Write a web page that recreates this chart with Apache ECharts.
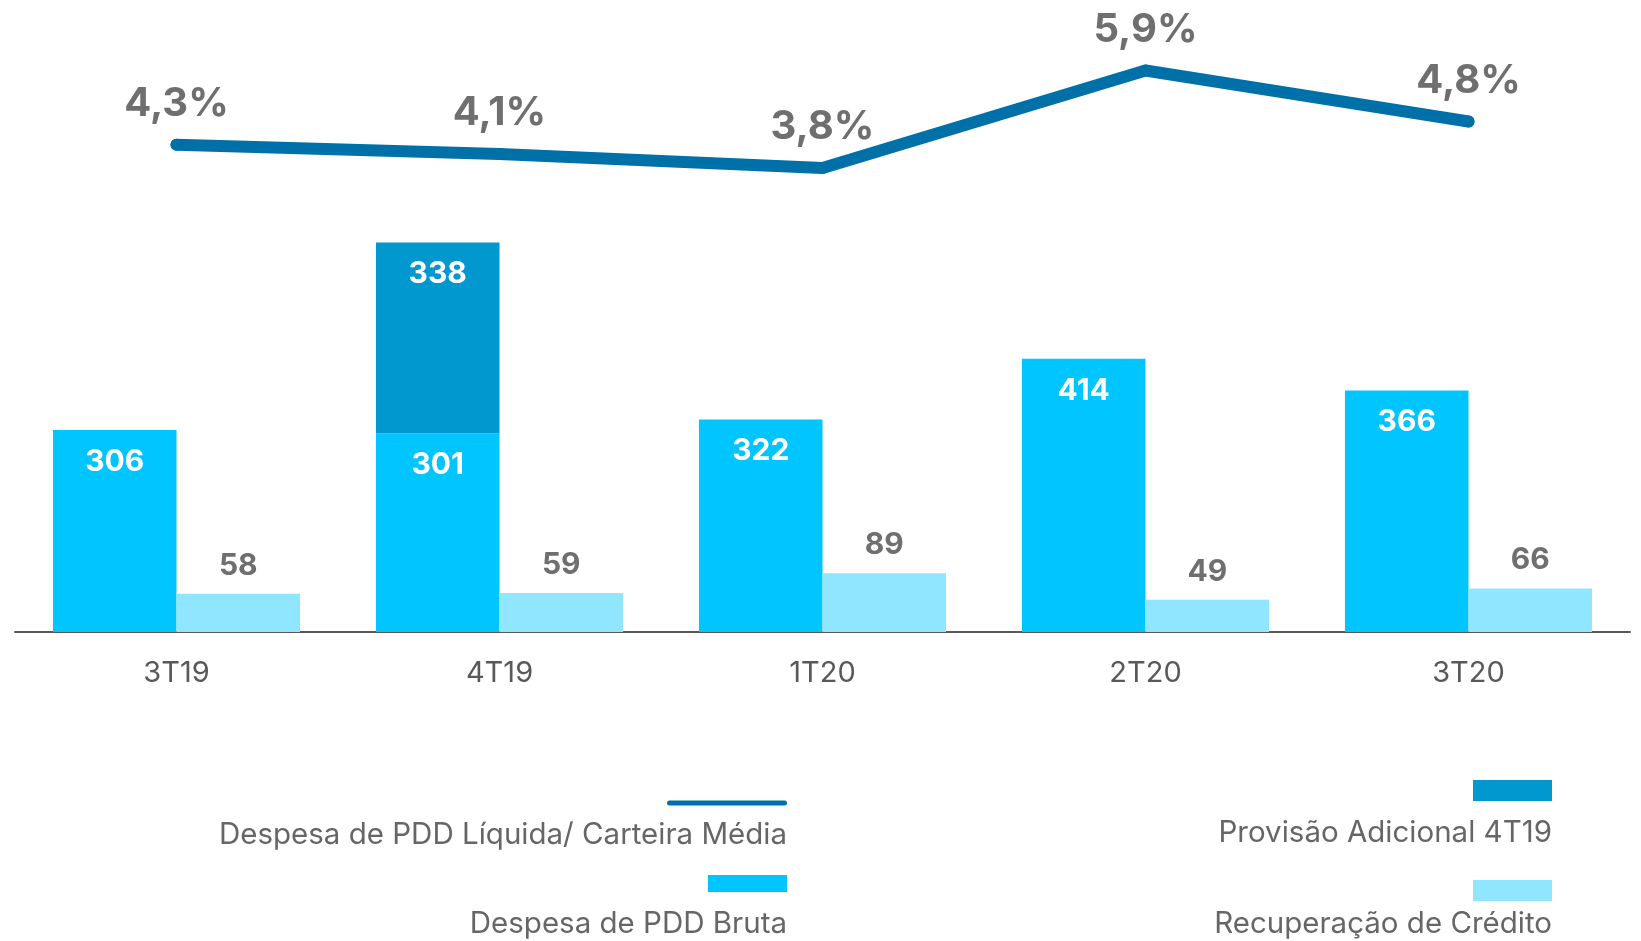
<!DOCTYPE html>
<html>
<head>
<meta charset="utf-8">
<script src="https://cdn.jsdelivr.net/npm/echarts@6/dist/echarts.min.js"></script>
<style>
  html, body { margin: 0; padding: 0; background: #fff; }
  #chart { width: 1641px; height: 941px; }
</style>
</head>
<body>
<div id="chart"></div>
<script>
// dados do grafico
const trimestres = ['3T19', '4T19', '1T20', '2T20', '3T20'];
const pddBruta = [306, 301, 322, 414, 366];
// altura lida da barra escura; o rotulo mostrado no original e 338
const provisaoAdicional = [null, 289, null, null, null];
const provisaoRotulo = [null, '338', null, null, null];
const recuperacao = [58, 59, 89, 49, 66];
const pddLiquidaCarteira = [4.3, 4.1, 3.8, 5.9, 4.8];

const FONTE = "Inter, 'Noto Sans', sans-serif";

const NOME_LINHA = 'Despesa de PDD Líquida/ Carteira Média';
const NOME_BRUTA = 'Despesa de PDD Bruta';
const NOME_PROV = 'Provisão Adicional 4T19';
const NOME_REC = 'Recuperação de Crédito';

const COR_LINHA = '#0070a8';
const COR_BRUTA = '#00c5ff';
const COR_PROV = '#0098ce';
const COR_REC = '#91e6ff';

//monta uma legenda com o icone acima do texto
function legenda(nome, cor, largura, altura, raio, right, top, espaco) {
    return {
        data: [nome],
        right: right,
        top: top,
        align: 'right',
        icon: 'none',
        itemWidth: 0,
        itemHeight: 0,
        padding: 0,
        selectedMode: false,
        formatter: function (n) {
            return '{ic|}\n{tx|' + n + '}';
        },
        textStyle: {
            rich: {
                ic: {
                    width: largura,
                    height: altura,
                    lineHeight: espaco,
                    verticalAlign: 'top',
                    backgroundColor: cor,
                    borderRadius: raio,
                    align: 'right'
                },
                tx: {
                    fontFamily: FONTE,
                    fontSize: 29.5,
                    color: '#666666',
                    lineHeight: 30,
                    align: 'right'
                }
            }
        }
    };
}

const chart = echarts.init(document.getElementById('chart'));

let options = {
    animation: false,
    backgroundColor: '#ffffff',
    textStyle: { fontFamily: FONTE },
    grid: {
        left: 15,
        right: 11,
        top: 38,
        bottom: 309,
        containLabel: false
    },
    legend: [
        legenda(NOME_LINHA, COR_LINHA, 120, 5, 3, 849, 797, 20),
        legenda(NOME_BRUTA, COR_BRUTA, 79, 17, 0, 849, 875, 34),
        legenda(NOME_PROV, COR_PROV, 79, 21, 0, 84, 780, 38),
        legenda(NOME_REC, COR_REC, 79, 21, 0, 84, 880, 29)
    ],
    xAxis: {
        type: 'category',
        data: trimestres,
        axisTick: { show: false },
        axisLine: { lineStyle: { color: '#595959', width: 2 } },
        axisLabel: {
            fontFamily: FONTE,
            fontSize: 29,
            color: '#595959',
            margin: 27
        }
    },
    yAxis: [
        { type: 'value', min: 0, max: 900, show: false },
        { type: 'value', min: -6.2, max: 6.6, show: false }
    ],
    series: [
        {
            name: NOME_BRUTA,
            type: 'bar',
            stack: 'bruta',
            data: pddBruta,
            barCategoryGap: '23.5%',
            barGap: '0%',
            itemStyle: { color: COR_BRUTA },
            label: {
                show: true,
                position: 'insideTop',
                distance: 17,
                fontFamily: FONTE,
                fontSize: 30,
                fontWeight: 'bold',
                color: '#ffffff'
            }
        },
        {
            name: NOME_PROV,
            type: 'bar',
            stack: 'bruta',
            data: provisaoAdicional,
            itemStyle: { color: COR_PROV },
            label: {
                show: true,
                position: 'insideTop',
                distance: 16,
                fontFamily: FONTE,
                fontSize: 30,
                fontWeight: 'bold',
                color: '#ffffff',
                formatter: function (p) {
                    return provisaoRotulo[p.dataIndex] || '';
                }
            }
        },
        {
            name: NOME_REC,
            type: 'bar',
            data: recuperacao,
            barGap: '0%',
            itemStyle: { color: COR_REC },
            label: {
                show: true,
                position: 'top',
                distance: 13,
                fontFamily: FONTE,
                fontSize: 30,
                fontWeight: 'bold',
                color: '#6f6f6f'
            }
        },
        {
            name: NOME_LINHA,
            type: 'line',
            yAxisIndex: 1,
            data: pddLiquidaCarteira,
            symbol: 'circle',
            symbolSize: 12,
            itemStyle: { color: COR_LINHA },
            lineStyle: { color: COR_LINHA, width: 12, cap: 'round', join: 'round' },
            z: 5,
            label: {
                show: true,
                position: 'top',
                distance: 15,
                fontFamily: FONTE,
                fontSize: 40,
                fontWeight: 'bold',
                color: '#6f6f6f',
                formatter: function (p) {
                    return p.value.toFixed(1).replace('.', ',') + '%';
                }
            }
        }
    ]
};

//渲染
chart.setOption(options);
</script>
</body>
</html>
